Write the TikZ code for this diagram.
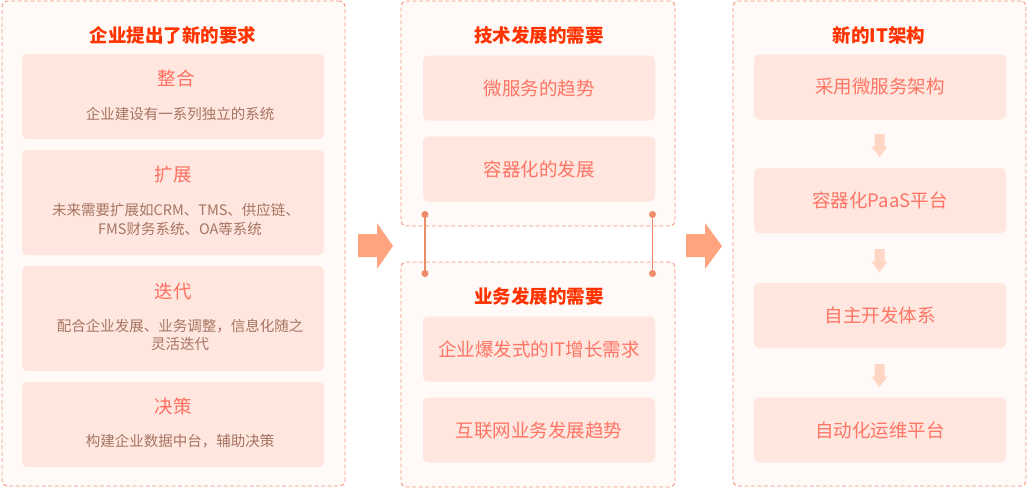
\documentclass[tikz,border=0pt]{standalone}
\usepackage{fontspec}
\setmainfont{Noto Sans CJK SC}
\definecolor{pborder}{HTML}{F29572}
\definecolor{pfill}{HTML}{FFF9F7}
\definecolor{bfill}{HTML}{FFE6DE}
\definecolor{ttl}{HTML}{FF3300}
\definecolor{head}{HTML}{FF6F61}
\definecolor{desc}{HTML}{A67462}
\definecolor{btxt}{HTML}{FF7565}
\definecolor{bigarr}{HTML}{FFA47E}
\definecolor{smallarr}{HTML}{FFD5C4}
\definecolor{conn}{HTML}{EE8B68}
\tikzset{
  panel/.style={draw=pborder, fill=pfill, dash pattern=on 4pt off 2.5pt, line width=0.9pt, rounded corners=5pt, inner sep=0pt},
  ibox/.style={fill=bfill, rounded corners=5pt, inner sep=0pt, text=btxt, font=\fontsize{18.5}{22}\selectfont},
  ttlstyle/.style={text=ttl, font=\fontsize{18.5}{22}\selectfont\bfseries, inner sep=0pt},
  headstyle/.style={text=head, font=\fontsize{18.5}{22}\selectfont, inner sep=0pt},
  descstyle/.style={text=desc, font=\fontsize{14.5}{19}\selectfont, inner sep=0pt},
  dotstyle/.style={circle, fill=conn, inner sep=0pt, minimum size=7pt},
  connstyle/.style={draw=conn, line width=1.2pt},
}
\begin{document}
\begin{tikzpicture}[x=1pt,y=-1pt]
\useasboundingbox (0,0) rectangle (1027,488);
% panels
\node[panel, minimum width=343pt, minimum height=485pt] (P1) at (173.5,243.5) {};
\node[panel, minimum width=274pt, minimum height=225pt] (P2) at (538,113.5) {};
\node[panel, minimum width=274pt, minimum height=225pt] (P3) at (538,374.5) {};
\node[panel, minimum width=293pt, minimum height=485pt] (P4) at (879.5,243.5) {};
% titles
\node[ttlstyle] (T1) at (173,35) {企业提出了新的要求};
\node[ttlstyle] (T2) at (539,35) {技术发展的需要};
\node[ttlstyle] (T3) at (539,296) {业务发展的需要};
\node[ttlstyle] (T4) at (879,35) {新的IT架构};
% left boxes
\node[ibox, minimum width=302pt, minimum height=85pt] (L1) at (173,96.5) {};
\node[ibox, minimum width=302pt, minimum height=105pt] (L2) at (173,202.5) {};
\node[ibox, minimum width=302pt, minimum height=105pt] (L3) at (173,318.5) {};
\node[ibox, minimum width=302pt, minimum height=85pt] (L4) at (173,424.5) {};
\node[headstyle] (H1) at (176,78.5) {整合};
\node[descstyle] (D1) at (180,113.5) {企业建设有一系列独立的系统};
\node[headstyle] (H2) at (173,175) {扩展};
\node[descstyle] (D2a) at (176,209.5) {未来需要扩展如CRM、TMS、供应链、};
\node[descstyle] (D2b) at (180,229) {FMS财务系统、OA等系统};
\node[headstyle] (H3) at (173,291) {迭代};
\node[descstyle] (D3a) at (180,326) {配合企业发展、业务调整，信息化随之};
\node[descstyle] (D3b) at (180,344.5) {灵活迭代};
\node[headstyle] (H4) at (173,406.5) {决策};
\node[descstyle] (D4) at (180,441) {构建企业数据中台，辅助决策};
% middle boxes
\node[ibox, minimum width=232pt, minimum height=65pt] (M1) at (539,88) {微服务的趋势};
\node[ibox, minimum width=232pt, minimum height=65pt] (M2) at (539,169) {容器化的发展};
\node[ibox, minimum width=232pt, minimum height=65pt] (M3) at (539,349) {企业爆发式的IT增长需求};
\node[ibox, minimum width=232pt, minimum height=65pt] (M4) at (539,430) {互联网业务发展趋势};
% right boxes
\node[ibox, minimum width=252pt, minimum height=65pt] (R1) at (880,87) {采用微服务架构};
\node[ibox, minimum width=252pt, minimum height=65pt] (R2) at (880,200.5) {容器化PaaS平台};
\node[ibox, minimum width=252pt, minimum height=65pt] (R3) at (880,315.5) {自主开发体系};
\node[ibox, minimum width=252pt, minimum height=65pt] (R4) at (880,430) {自动化运维平台};
% connectors between middle panels
\node[dotstyle] (C1) at (425,214.5) {};
\node[dotstyle] (C2) at (425,273.5) {};
\node[dotstyle] (C3) at (652.5,214.5) {};
\node[dotstyle] (C4) at (652.5,273.5) {};
\draw[connstyle] (C1.center) -- (C2.center);
\draw[connstyle] (C3.center) -- (C4.center);
% big arrows
\fill[bigarr] (358,234) -- (377,234) -- (377,223) -- (393,246) -- (377,269) -- (377,257) -- (358,257) -- cycle;
\fill[bigarr] (686,234) -- (705,234) -- (705,223) -- (722,246) -- (705,269) -- (705,257) -- (686,257) -- cycle;
% small down arrows
\foreach \yy in {134,249,364}{
  \fill[smallarr] (874.5,\yy) -- (884.5,\yy) -- (884.5,\yy+12.5) -- (887.5,\yy+12.5) -- (879.5,\yy+23) -- (871.5,\yy+12.5) -- (874.5,\yy+12.5) -- cycle;
}
\end{tikzpicture}
\end{document}
